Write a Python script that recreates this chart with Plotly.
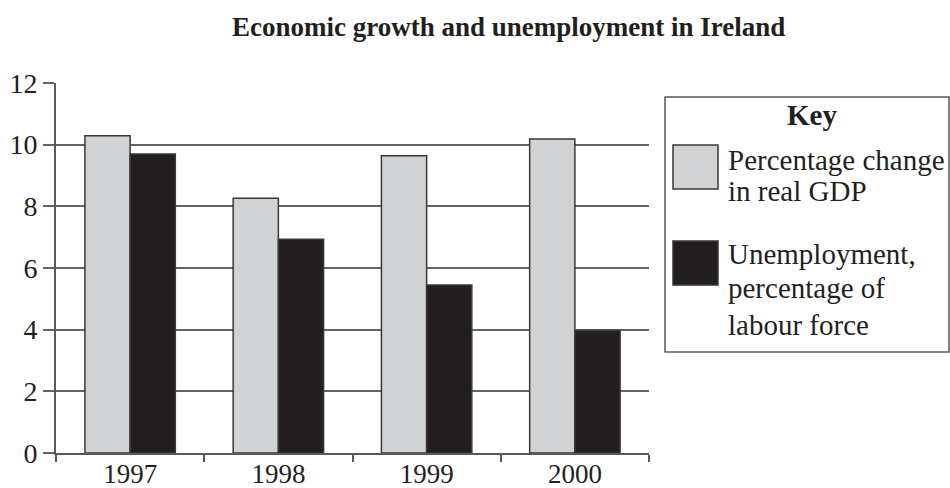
import plotly.graph_objects as go

years = ["1997", "1998", "1999", "2000"]
gdp_change = [10.29, 8.26, 9.64, 10.18]
unemployment = [9.70, 6.93, 5.45, 3.97]

series_names = ["Percentage change in real GDP", "Unemployment, percentage of labour force"]
key_lines = [["Percentage change", "in real GDP"], ["Unemployment,", "percentage of", "labour force"]]
series_colors = ["#d1d2d4", "#231f20"]
title_text = "Economic growth and unemployment in Ireland"
key_title = "Key"

W, H = 950, 488
L, R, T, B = 56, 301, 83, 35
PW, PH = W - L - R, H - T - B
FONT = "Liberation Serif, Times New Roman, serif"
INK = "#231f20"


def px(x):
    return (x - L) / PW


def py(y):
    return (H - B - y) / PH


fig = go.Figure()
for name, vals, col in zip(series_names, [gdp_change, unemployment], series_colors):
    fig.add_trace(go.Bar(
        x=years, y=vals, name=name,
        marker=dict(color=col, line=dict(color="#3a3839", width=1.5)),
        showlegend=False,
    ))

shapes = []
annotations = []
# key box
shapes.append(dict(type="rect", xref="paper", yref="paper",
                   x0=px(665), x1=px(949), y0=py(97), y1=py(352),
                   line=dict(color="#58595b", width=1.5), fillcolor="white", layer="above"))
annotations.append(dict(text="<b>" + key_title + "</b>", xref="paper", yref="paper",
                        x=px(812), y=py(115), xanchor="center", yanchor="middle",
                        showarrow=False, font=dict(family=FONT, size=29, color=INK)))
swatch_tops = [145, 241]
line_centres = [[160, 191], [254, 288, 325]]
for col, top, lines, cents in zip(series_colors, swatch_tops, key_lines, line_centres):
    shapes.append(dict(type="rect", xref="paper", yref="paper",
                       x0=px(673), x1=px(718), y0=py(top), y1=py(top + 44),
                       line=dict(color="#3a3839", width=1.5), fillcolor=col, layer="above"))
    for txt, c in zip(lines, cents):
        annotations.append(dict(text=txt, xref="paper", yref="paper",
                                x=px(726), y=py(c), xanchor="left", yanchor="middle",
                                showarrow=False, font=dict(family=FONT, size=29, color=INK)))

annotations.append(dict(text="<b>" + title_text + "</b>", xref="paper", yref="paper",
                        x=px(508), y=py(27), xanchor="center", yanchor="middle",
                        showarrow=False, font=dict(family=FONT, size=27, color=INK)))

fig.update_layout(
    width=W, height=H,
    margin=dict(l=L, r=R, t=T, b=B, pad=0, autoexpand=False),
    paper_bgcolor="white", plot_bgcolor="white",
    barmode="group", bargap=0.39, bargroupgap=0,
    font=dict(family=FONT, size=28, color=INK),
    shapes=shapes, annotations=annotations,
    showlegend=False,
)
fig.update_yaxes(
    range=[0, 12], dtick=2, tick0=0,
    showgrid=True, gridcolor="#636466", gridwidth=1.5,
    zeroline=False, automargin=False,
    showline=True, linecolor="#58595b", linewidth=2,
    ticks="outside", ticklen=11, tickwidth=1.5, tickcolor="#636466",
    ticklabelstandoff=0,
    tickfont=dict(family=FONT, size=28, color=INK),
)
fig.update_xaxes(
    type="category",
    showgrid=False, zeroline=False, automargin=False,
    showline=True, linecolor="#58595b", linewidth=2,
    ticks="outside", tickson="boundaries", ticklen=7, tickwidth=1.5, tickcolor="#58595b",
    ticklabelstandoff=-4,
    tickfont=dict(family=FONT, size=27, color=INK),
)

fig.write_html("out.html")
